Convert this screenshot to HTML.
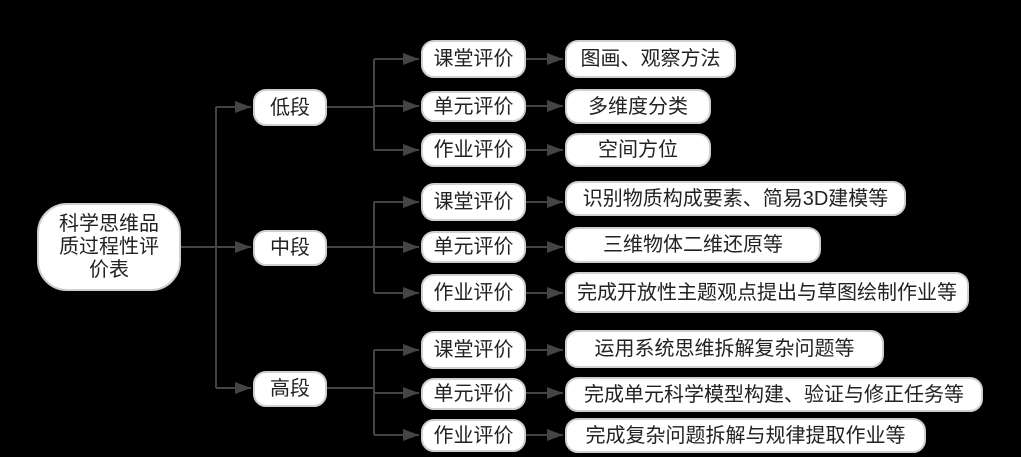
<!DOCTYPE html>
<html><head><meta charset="utf-8"><style>
body{margin:0;background:#000;width:1021px;height:457px;overflow:hidden;position:relative;font-family:"Liberation Sans","Noto Sans CJK SC",sans-serif}
.b{position:absolute;background:#fff;border:2px solid #cfcfcf;box-sizing:border-box;border-radius:13px;color:#222;font-size:20px;display:flex;align-items:center;justify-content:center;text-align:center;line-height:24px;white-space:nowrap}
svg{position:absolute;left:0;top:0}
</style></head><body>
<svg width="1021" height="457">
<defs>
<marker id="m" viewBox="0 0 16 12" markerWidth="16" markerHeight="12" refX="16" refY="6" orient="auto" markerUnits="userSpaceOnUse"><path d="M0,0 L16,6 L0,12z" fill="#444"/></marker></defs>
<g stroke="#444" stroke-width="2" fill="none">
<path d="M180,247 H216 M216,107 V388"/>
<path d="M216,107 H251" marker-end="url(#m)"/><path d="M216,247 H251" marker-end="url(#m)"/><path d="M216,388 H251" marker-end="url(#m)"/>
<path d="M326,107 H374 M374,59 V150 M326,247 H374 M374,202 V293 M326,388 H374 M374,350 V435"/>
<path d="M374,59 H419" marker-end="url(#m)"/><path d="M374,106 H419" marker-end="url(#m)"/><path d="M374,150 H419" marker-end="url(#m)"/>
<path d="M374,202 H419" marker-end="url(#m)"/><path d="M374,247 H419" marker-end="url(#m)"/><path d="M374,293 H419" marker-end="url(#m)"/>
<path d="M374,350 H419" marker-end="url(#m)"/><path d="M374,393 H419" marker-end="url(#m)"/><path d="M374,435 H419" marker-end="url(#m)"/>
<path d="M525,59 H563" marker-end="url(#m)"/><path d="M525,106 H563" marker-end="url(#m)"/><path d="M525,150 H563" marker-end="url(#m)"/>
<path d="M525,202 H563" marker-end="url(#m)"/><path d="M525,247 H563" marker-end="url(#m)"/><path d="M525,293 H563" marker-end="url(#m)"/>
<path d="M525,350 H563" marker-end="url(#m)"/><path d="M525,393 H563" marker-end="url(#m)"/><path d="M525,435 H563" marker-end="url(#m)"/>
</g></svg>
<div class="b" style="left:37px;top:203px;width:144px;height:88px;border-radius:30px;padding:0 20px;white-space:normal;line-height:23px">科学思维品质过程性评价表</div>
<div class="b" style="left:253px;top:89px;width:74px;height:37px">低段</div>
<div class="b" style="left:253px;top:230px;width:74px;height:36px">中段</div>
<div class="b" style="left:253px;top:371px;width:74px;height:36px">高段</div>
<div class="b" style="left:421px;top:40px;width:105px;height:38px">课堂评价</div>
<div class="b" style="left:421px;top:91px;width:105px;height:31px">单元评价</div>
<div class="b" style="left:421px;top:133px;width:105px;height:34px">作业评价</div>
<div class="b" style="left:421px;top:183px;width:105px;height:38px">课堂评价</div>
<div class="b" style="left:421px;top:231px;width:105px;height:32px">单元评价</div>
<div class="b" style="left:421px;top:274px;width:105px;height:38px">作业评价</div>
<div class="b" style="left:421px;top:331px;width:105px;height:38px">课堂评价</div>
<div class="b" style="left:421px;top:378px;width:105px;height:32px">单元评价</div>
<div class="b" style="left:421px;top:419px;width:105px;height:33px">作业评价</div>
<div class="b" style="left:565px;top:40px;width:171px;height:38px">图画、观察方法</div>
<div class="b" style="left:565px;top:89px;width:146px;height:35px">多维度分类</div>
<div class="b" style="left:565px;top:133px;width:146px;height:34px">空间方位</div>
<div class="b" style="left:565px;top:181px;width:341px;height:35px">识别物质构成要素、简易3D建模等</div>
<div class="b" style="left:565px;top:227px;width:256px;height:36px">三维物体二维还原等</div>
<div class="b" style="left:565px;top:272px;width:404px;height:41px">完成开放性主题观点提出与草图绘制作业等</div>
<div class="b" style="left:565px;top:330px;width:319px;height:38px">运用系统思维拆解复杂问题等</div>
<div class="b" style="left:565px;top:377px;width:418px;height:35px">完成单元科学模型构建、验证与修正任务等</div>
<div class="b" style="left:565px;top:418px;width:361px;height:35px">完成复杂问题拆解与规律提取作业等</div>
</body></html>
